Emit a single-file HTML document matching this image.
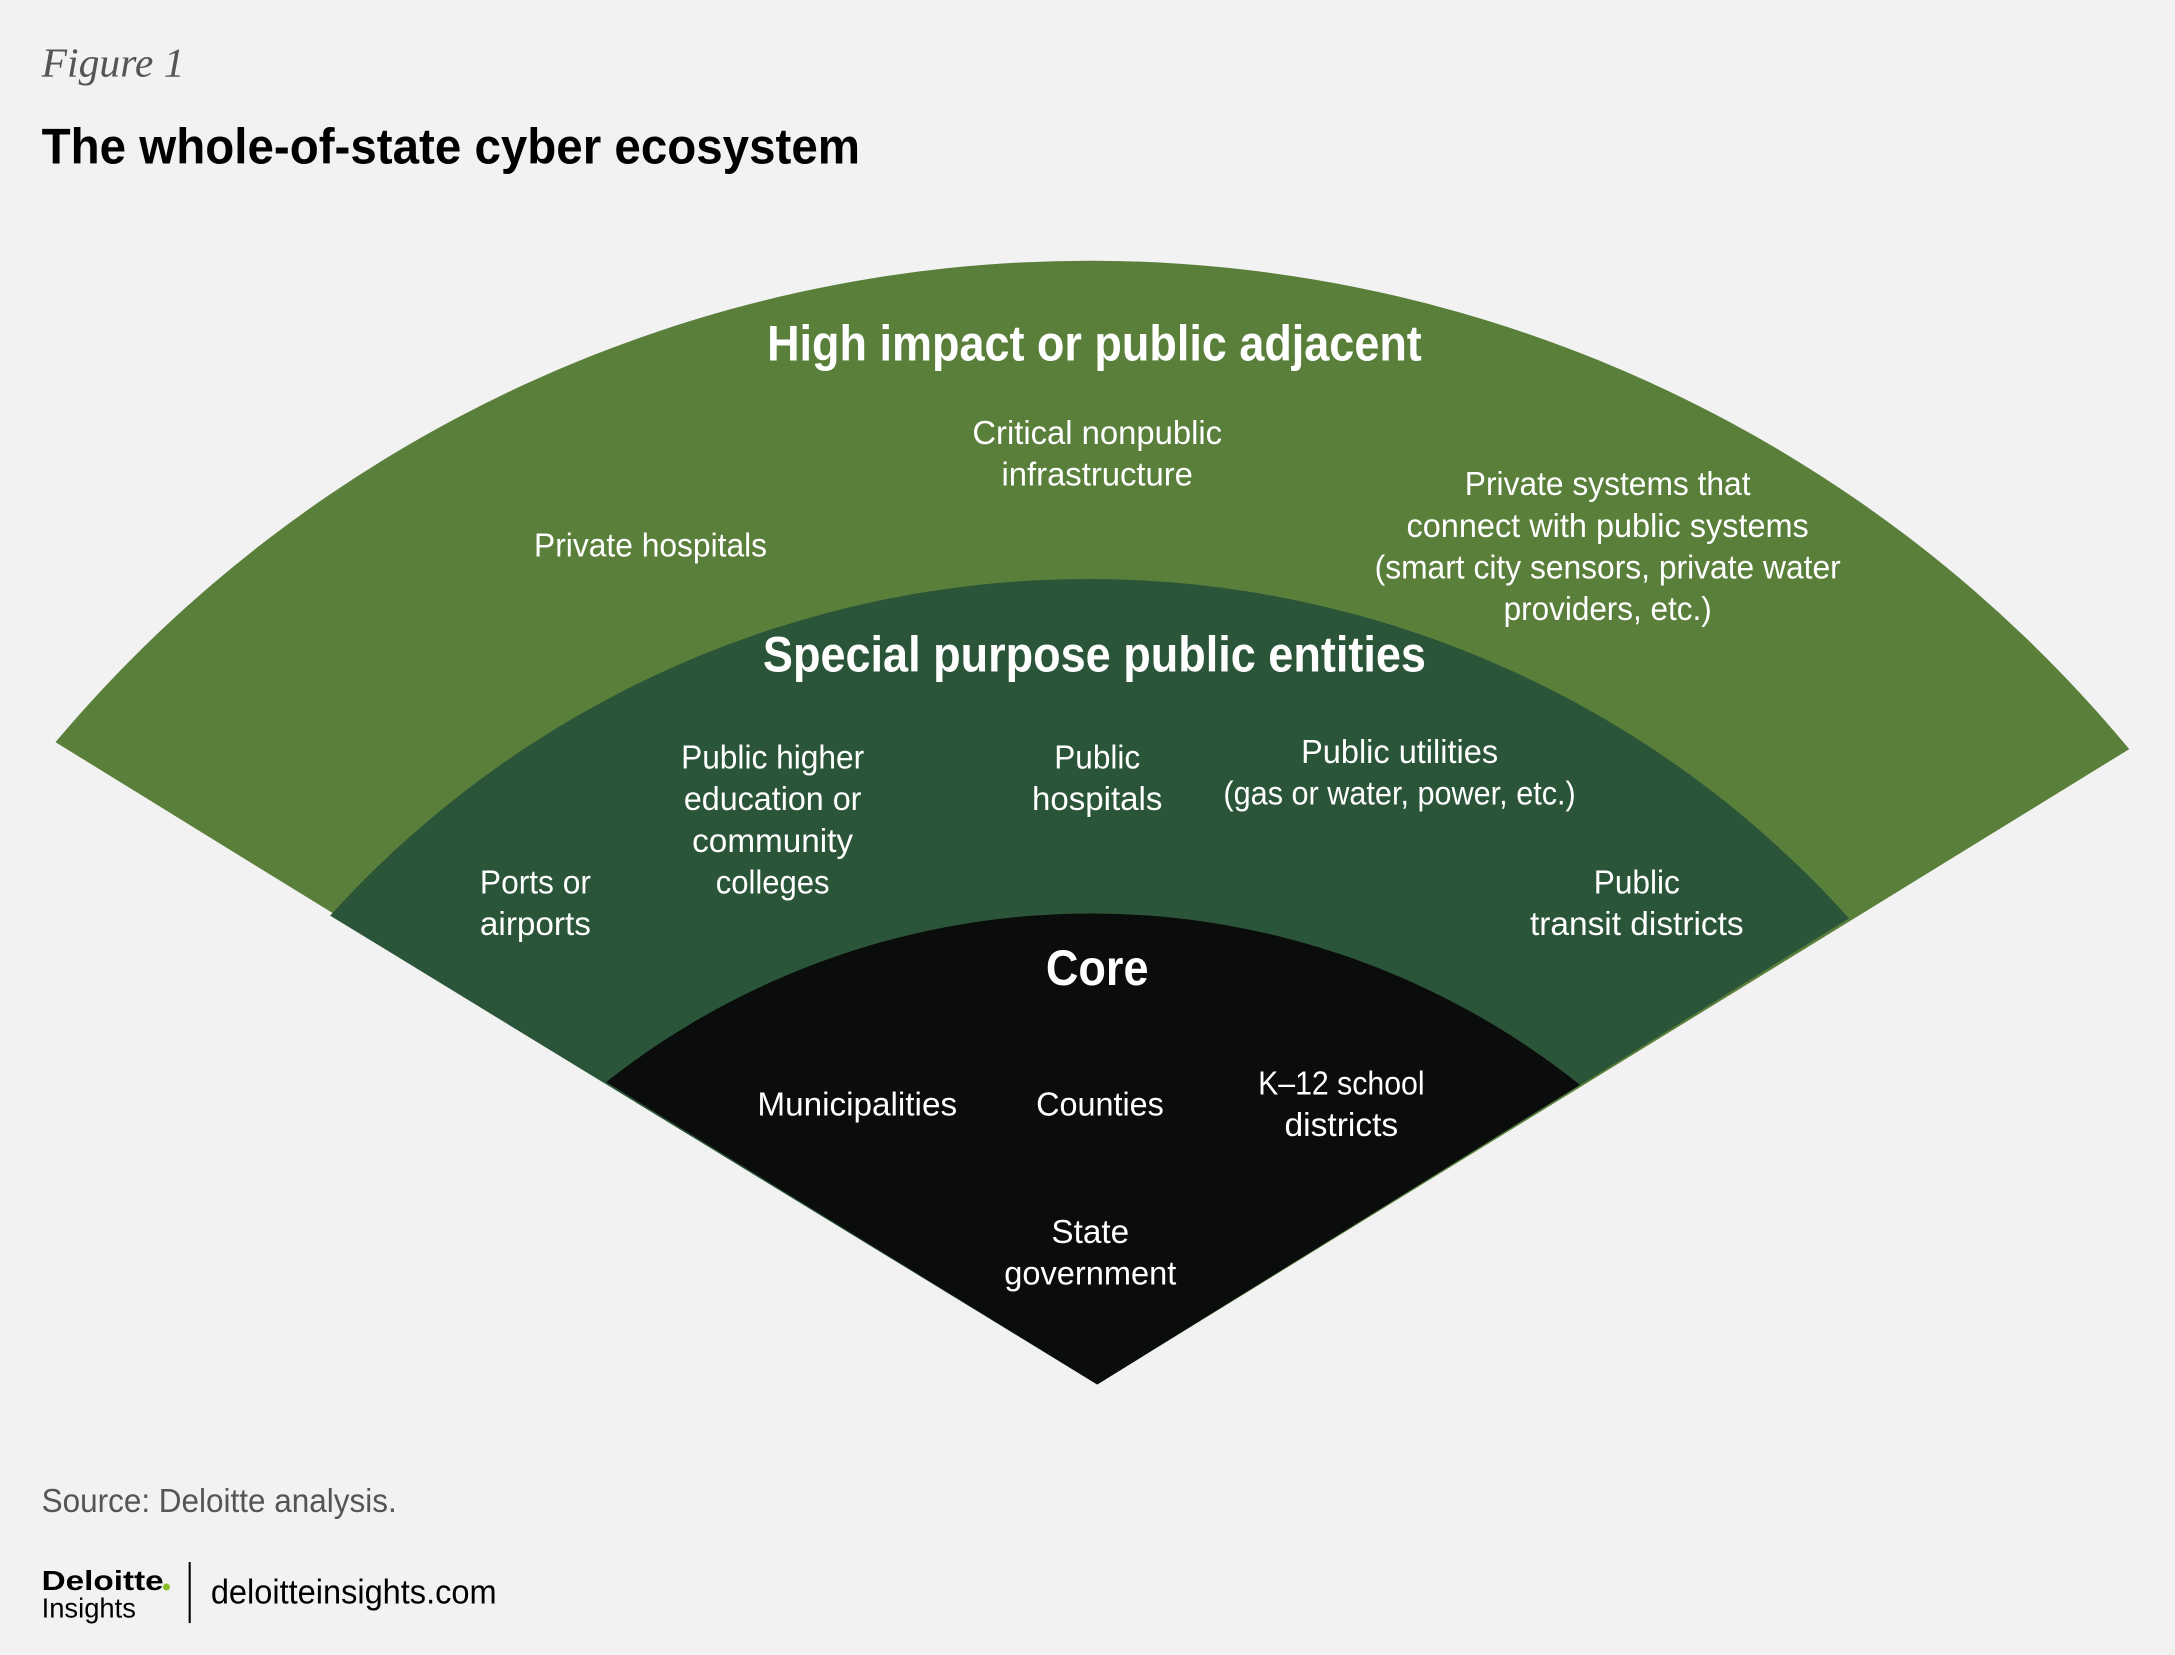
<!DOCTYPE html>
<html><head><meta charset="utf-8"><style>
html,body{margin:0;padding:0;background:#f2f2f2;}
svg{display:block}
text{font-family:"Liberation Sans",sans-serif;}
.b{fill:#fff;font-size:24px;text-anchor:middle;}
.h{fill:#fff;font-size:36px;font-weight:bold;text-anchor:middle;}
</style></head><body>
<svg width="2175" height="1655" viewBox="0 0 1568 1193" preserveAspectRatio="none" xmlns="http://www.w3.org/2000/svg">
<rect width="1568" height="1193" fill="#f2f2f2"/>
<text x="30" y="55" style="font-family:'Liberation Serif',serif;font-style:italic;font-size:30px;fill:#555">Figure 1</text>
<text x="30" y="118" textLength="590" lengthAdjust="spacingAndGlyphs" style="font-size:36px;font-weight:bold;fill:#000">The whole-of-state cyber ecosystem</text>
<path d="M791,998 L40,535 A974,974 0 0 1 1535,540 Z" fill="#5a7f3a"/>
<path d="M791,998 L238,660 A737,737 0 0 1 1333,662 Z" fill="#2b5538"/>
<path d="M791,998 L437,780 A564,564 0 0 1 1139,782 Z" fill="#0b0d0c"/>
<text class="h" x="789" y="260" textLength="472" lengthAdjust="spacingAndGlyphs">High impact or public adjacent</text>
<text class="b" x="791" y="320" textLength="180" lengthAdjust="spacingAndGlyphs">Critical nonpublic</text>
<text class="b" x="791" y="350" textLength="138" lengthAdjust="spacingAndGlyphs">infrastructure</text>
<text class="b" x="469" y="401" textLength="168" lengthAdjust="spacingAndGlyphs">Private hospitals</text>
<text class="b" x="1159" y="357" textLength="206" lengthAdjust="spacingAndGlyphs">Private systems that</text>
<text class="b" x="1159" y="387" textLength="290" lengthAdjust="spacingAndGlyphs">connect with public systems</text>
<text class="b" x="1159" y="417" textLength="336" lengthAdjust="spacingAndGlyphs">(smart city sensors, private water</text>
<text class="b" x="1159" y="447" textLength="150" lengthAdjust="spacingAndGlyphs">providers, etc.)</text>
<text class="h" x="789" y="484" textLength="478" lengthAdjust="spacingAndGlyphs">Special purpose public entities</text>
<text class="b" x="557" y="554" textLength="132" lengthAdjust="spacingAndGlyphs">Public higher</text>
<text class="b" x="557" y="584" textLength="128" lengthAdjust="spacingAndGlyphs">education or</text>
<text class="b" x="557" y="614" textLength="116" lengthAdjust="spacingAndGlyphs">community</text>
<text class="b" x="557" y="644" textLength="82" lengthAdjust="spacingAndGlyphs">colleges</text>
<text class="b" x="791" y="554" textLength="62" lengthAdjust="spacingAndGlyphs">Public</text>
<text class="b" x="791" y="584" textLength="94" lengthAdjust="spacingAndGlyphs">hospitals</text>
<text class="b" x="1009" y="550" textLength="142" lengthAdjust="spacingAndGlyphs">Public utilities</text>
<text class="b" x="1009" y="580" textLength="254" lengthAdjust="spacingAndGlyphs">(gas or water, power, etc.)</text>
<text class="b" x="386" y="644" textLength="80" lengthAdjust="spacingAndGlyphs">Ports or</text>
<text class="b" x="386" y="674" textLength="80" lengthAdjust="spacingAndGlyphs">airports</text>
<text class="b" x="1180" y="644" textLength="62" lengthAdjust="spacingAndGlyphs">Public</text>
<text class="b" x="1180" y="674" textLength="154" lengthAdjust="spacingAndGlyphs">transit districts</text>
<text class="h" x="791" y="710" textLength="74" lengthAdjust="spacingAndGlyphs">Core</text>
<text class="b" x="618" y="804" textLength="144" lengthAdjust="spacingAndGlyphs">Municipalities</text>
<text class="b" x="793" y="804" textLength="92" lengthAdjust="spacingAndGlyphs">Counties</text>
<text class="b" x="967" y="789" textLength="120" lengthAdjust="spacingAndGlyphs">K–12 school</text>
<text class="b" x="967" y="819" textLength="82" lengthAdjust="spacingAndGlyphs">districts</text>
<text class="b" x="786" y="896" textLength="56" lengthAdjust="spacingAndGlyphs">State</text>
<text class="b" x="786" y="926" textLength="124" lengthAdjust="spacingAndGlyphs">government</text>
<text x="30" y="1090" textLength="256" lengthAdjust="spacingAndGlyphs" style="font-size:24px;fill:#555">Source: Deloitte analysis.</text>
<text x="30" y="1146" textLength="88" lengthAdjust="spacingAndGlyphs" style="font-size:20px;font-weight:bold;fill:#000">Deloitte</text>
<circle cx="120" cy="1144" r="2.5" fill="#86bc25"/>
<text x="30" y="1166" textLength="68" lengthAdjust="spacingAndGlyphs" style="font-size:20px;fill:#000">Insights</text>
<rect x="136" y="1126" width="1.5" height="44" fill="#000"/>
<text x="152" y="1156" textLength="206" lengthAdjust="spacingAndGlyphs" style="font-size:25px;fill:#000">deloitteinsights.com</text>
</svg>
</body></html>
